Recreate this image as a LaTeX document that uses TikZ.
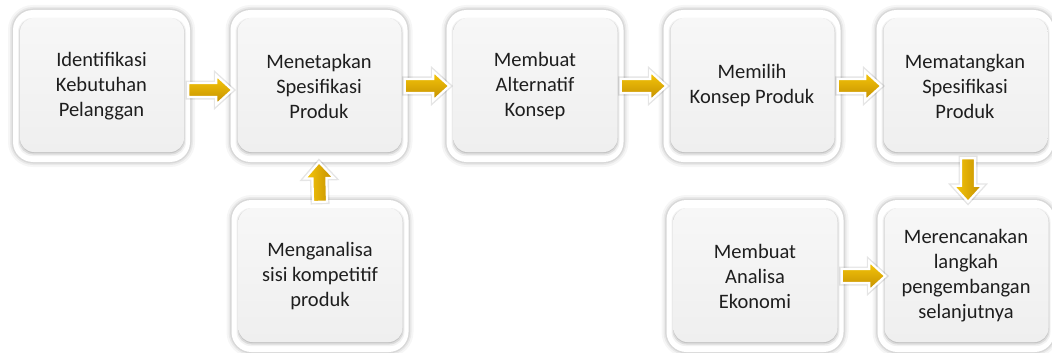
\documentclass[tikz,border=0pt]{standalone}
\usepackage{fontspec}
\setmainfont{Carlito}
\usetikzlibrary{calc}
\definecolor{txt}{HTML}{1E1E1E}
\definecolor{innerTop}{HTML}{F7F7F7}
\definecolor{innerBot}{HTML}{EFEFEF}
\definecolor{goldA}{HTML}{F8C80A}
\definecolor{goldB}{HTML}{EDB100}
\definecolor{goldC}{HTML}{C28E00}
\tikzset{
  card/.style={rounded corners=20pt, fill=white, minimum width=177pt, minimum height=152pt,
    inner sep=0pt, align=center, text=txt, font=\fontsize{20.5}{25}\selectfont,
    preaction={draw=black, opacity=0.035, line width=10pt},
    preaction={draw=black, opacity=0.05, line width=6pt},
    preaction={draw=black, opacity=0.07, line width=3pt},
    path picture={
      \coordinate (pSW) at ($(path picture bounding box.south west)+(7pt,10pt)$);
      \coordinate (pNE) at ($(path picture bounding box.north east)+(-6pt,-8pt)$);
      \fill[black, opacity=0.05, rounded corners=14pt] ($(pSW)+(-2pt,-4pt)$) rectangle ($(pNE)+(2pt,0pt)$);
      \fill[black, opacity=0.09, rounded corners=14pt] ($(pSW)+(-1pt,-2.5pt)$) rectangle ($(pNE)+(1pt,-0.5pt)$);
      \fill[black, opacity=0.10, rounded corners=14pt] ($(pSW)+(0pt,-1.2pt)$) rectangle ($(pNE)+(0pt,-1pt)$);
      \shade[rounded corners=14pt, top color=innerTop, bottom color=innerBot] (pSW) rectangle (pNE);
    }},
  blockarr/.style={draw=white, line width=2.2pt, line join=miter,
    preaction={draw=black, opacity=0.10, line width=5pt},
    to path={
      ($(\tikztostart)!7pt!90:(\tikztotarget)$)
      -- ($(\tikztotarget)!16pt!(\tikztostart)!7pt!90:(\tikztotarget)$)
      -- ($(\tikztotarget)!16pt!(\tikztostart)!14.5pt!90:(\tikztotarget)$)
      -- (\tikztotarget)
      -- ($(\tikztotarget)!16pt!(\tikztostart)!14.5pt!-90:(\tikztotarget)$)
      -- ($(\tikztotarget)!16pt!(\tikztostart)!7pt!-90:(\tikztotarget)$)
      -- ($(\tikztostart)!7pt!-90:(\tikztotarget)$)
      -- cycle}},
  harr/.style={blockarr, top color=goldA, middle color=goldB, bottom color=goldC},
  varr/.style={blockarr, left color=goldA, middle color=goldB, right color=goldC},
}
\begin{document}
\begin{tikzpicture}[x=1pt, y=-1pt]
\fill[white] (0,0) rectangle (1052,353);
\useasboundingbox (0,0) rectangle (1052,353);

\node[card] (b1) at (101.5,86) {Identifikasi\\Kebutuhan\\Pelanggan};
\node[card] (b2) at (319,86) {Menetapkan\\Spesifikasi\\Produk};
\node[card] (b3) at (535,86) {Membuat\\Alternatif\\Konsep};
\node[card] (b4) at (752,86) {Memilih\\Konsep Produk};
\node[card] (b5) at (965,86) {Mematangkan\\Spesifikasi\\Produk};
\node[card] (m2) at (320,276) {Menganalisa\\sisi kompetitif\\produk};
\node[card] (m4) at (755,276) {Membuat\\Analisa\\Ekonomi};
\node[card] (m5) at (966,276) {Merencanakan\\langkah\\pengembangan\\selanjutnya};

\path[harr] ([xshift=-2pt,yshift=-4pt]b1.east) to ([xshift=2pt,yshift=-4pt]b2.west);
\path[harr] ([xshift=-3pt]b2.east) to ([xshift=3pt]b3.west);
\path[harr] ([xshift=-3pt]b3.east) to ([xshift=3pt]b4.west);
\path[harr] ([xshift=-3pt]b4.east) to ([xshift=5pt]b5.west);
\path[harr] ([xshift=-2pt]m4.east) to ([xshift=8pt]m5.west);
\path[varr] ([yshift=-2pt]m2.north) to (b2.south);
\path[varr] ([xshift=3pt,yshift=4pt]b5.south) to ([xshift=2pt,yshift=-2pt]m5.north);
\end{tikzpicture}
\end{document}
